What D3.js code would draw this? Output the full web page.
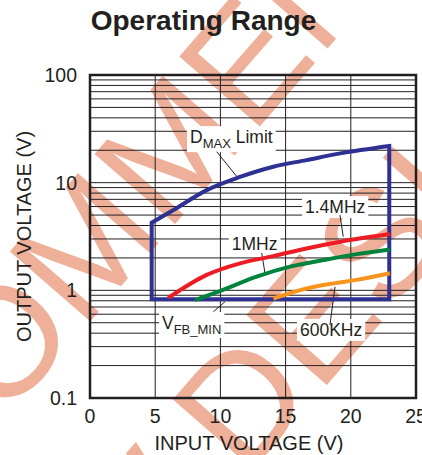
<!DOCTYPE html>
<html lang="en">
  <head>
    <meta charset="UTF-8" />
    <title>Operating Range</title>
    <script src="https://d3js.org/d3.v7.min.js"></script>
    <style>
      body { margin: 0; background: #fff; }
      text { font-family: "Liberation Sans", Arial, sans-serif; fill: #231f20; }
    </style>
  </head>
  <body>
    <svg width="422" height="455"></svg>
    <script>
      // axis ticks
      const xTicks = [0, 5, 10, 15, 20, 25];
      const yTicks = [0.1, 1, 10, 100];
      const yTickLabels = ["0.1", "1", "10", "100"];

      // operating boundary (blue)
      const vinMin = 4.73;
      const vinMax = 22.95;
      const vfbMin = 0.825;
      const dmaxVin = [4.73, 6.4, 8.95, 11.5, 14.06, 16.6, 19.2, 22.95];
      const dmaxVout = [4.25, 5.57, 8.53, 11.3, 14.06, 16.2, 18.7, 21.9];

      // frequency curves
      const f14Vin = [6.0, 8.95, 11.5, 14.06, 16.6, 19.2, 23.0];
      const f14Vout = [0.85, 1.39, 1.78, 2.08, 2.45, 2.83, 3.33];
      const f1Vin = [8.05, 10.2, 12.78, 15.34, 17.9, 20.45, 23.0];
      const f1Vout = [0.81, 1.01, 1.34, 1.66, 1.91, 2.17, 2.4];
      const f06Vin = [14.06, 16.6, 18.66, 20.45, 23.0];
      const f06Vout = [0.84, 1.04, 1.16, 1.25, 1.44];

      const svg = d3.select("svg");
      const margin = { left: 90, right: 6, top: 75, bottom: 57 };
      const W = 422, H = 455;

      const x = d3.scaleLinear().domain([0, 25]).range([margin.left, W - margin.right]);
      const y = d3.scaleLog().domain([0.1, 100]).range([H - margin.bottom, margin.top]);

      //Watermark behind the chart
      const wm = svg.append("g").attr("class", "watermark");
      function watermarkLine(str, idx, px, py) {
        const t = wm.append("text")
          .attr("transform", `translate(${px},${py}) rotate(-49)`)
          .style("font-size", "155px")
          .style("fill", "#efb09a")
          .text(str);
        const off = t.node().getSubStringLength(0, idx);
        t.attr("x", -off);
      }
      watermarkLine("NOT RECOMMENDED", 8, 82, 331);
      watermarkLine("FOR NEW DESIGNS", 8, 245, 479);

      //Grid
      const grid = svg.append("g").attr("stroke", "#231f20").attr("stroke-width", 1);
      grid.selectAll("line.h")
        .data(y.ticks())
        .enter()
        .append("line")
        .attr("x1", x(0)).attr("x2", x(25))
        .attr("y1", d => y(d)).attr("y2", d => y(d));
      grid.selectAll("line.v")
        .data(xTicks)
        .enter()
        .append("line")
        .attr("y1", y(0.1)).attr("y2", y(100))
        .attr("x1", d => x(d)).attr("x2", d => x(d));

      svg.append("rect")
        .attr("x", x(0)).attr("y", y(100))
        .attr("width", x(25) - x(0)).attr("height", y(0.1) - y(100))
        .attr("fill", "none")
        .attr("stroke", "#231f20")
        .attr("stroke-width", 2.5);

      //Tick labels
      svg.append("g")
        .selectAll("text")
        .data(xTicks)
        .enter()
        .append("text")
        .attr("x", d => x(d))
        .attr("y", 423)
        .attr("text-anchor", "middle")
        .style("font-size", "19.5px")
        .text(d => d);
      svg.append("g")
        .selectAll("text")
        .data(yTicks)
        .enter()
        .append("text")
        .attr("x", 77)
        .attr("y", d => y(d))
        .attr("dy", "0.36em")
        .attr("text-anchor", "end")
        .style("font-size", "19.5px")
        .text((d, i) => yTickLabels[i]);

      //Titles
      svg.append("text")
        .attr("x", 203.5).attr("y", 30)
        .attr("text-anchor", "middle")
        .style("font-size", "28px")
        .style("font-weight", "bold")
        .text("Operating Range");
      svg.append("text")
        .attr("x", 249).attr("y", 450)
        .attr("text-anchor", "middle")
        .style("font-size", "20px")
        .text("INPUT VOLTAGE (V)");
      svg.append("text")
        .attr("transform", "translate(31,236.5) rotate(-90)")
        .attr("text-anchor", "middle")
        .style("font-size", "20px")
        .text("OUTPUT VOLTAGE (V)");

      //Annotations (under the curves): label anchor and leader line in data units
      const notes = [
        { main: "D", sub: "MAX", rest: " Limit", at: [7.67, 23.3], from: [9.72, 19.4], to: [11.37, 10.96] },
        { main: "1.4MHz", at: [16.49, 5.22], from: [19.17, 5.0], to: [19.42, 3.15] },
        { main: "1MHz", at: [10.87, 2.37], from: [13.17, 2.22], to: [13.42, 1.44] },
        { main: "V", sub: "FB_MIN", rest: "", at: [5.52, 0.437], from: [9.46, 0.632], to: [10.35, 0.784] },
        { main: "600KHz", at: [16.1, 0.377], from: [18.4, 0.476], to: [18.79, 1.08] },
      ];
      const ann = svg.append("g");
      notes.forEach(function (n) {
        const g = ann.append("g");
        const bg = g.append("rect").attr("fill", "#fff");
        const t = g.append("text")
          .attr("x", x(n.at[0]))
          .attr("y", y(n.at[1]))
          .style("font-size", "17.5px");
        t.append("tspan").text(n.main);
        if (n.sub) {
          t.append("tspan").attr("dy", 5).style("font-size", "13px").text(n.sub);
          if (n.rest) t.append("tspan").attr("dy", -5).text(n.rest);
        }
        const b = t.node().getBBox();
        bg.attr("x", b.x - 3).attr("y", b.y - 1)
          .attr("width", b.width + 6).attr("height", b.height + 2);
        g.append("line")
          .attr("x1", x(n.from[0])).attr("y1", y(n.from[1]))
          .attr("x2", x(n.to[0])).attr("y2", y(n.to[1]))
          .attr("stroke", "#231f20")
          .attr("stroke-width", 1);
      });

      //Curves
      const line = d3.line()
        .x(d => x(d[0]))
        .y(d => y(d[1]))
        .curve(d3.curveMonotoneX);

      // boundary: left edge up, smooth DMAX top, right edge down, VFB_MIN floor
      const topEdge = line(d3.zip(dmaxVin, dmaxVout)).replace(/^M/, "L");
      svg.append("path")
        .attr("d", `M${x(vinMin)},${y(vfbMin)}` + topEdge + `L${x(vinMax)},${y(vfbMin)}Z`)
        .attr("fill", "none")
        .attr("stroke", "#2e3192")
        .attr("stroke-width", 4)
        .attr("stroke-linejoin", "miter");

      const series = [
        { vin: f14Vin, vout: f14Vout, color: "#ed1c24" },
        { vin: f1Vin, vout: f1Vout, color: "#00843d" },
        { vin: f06Vin, vout: f06Vout, color: "#f7941d" },
      ];
      svg.append("g")
        .selectAll("path")
        .data(series)
        .enter()
        .append("path")
        .attr("d", d => line(d3.zip(d.vin, d.vout)))
        .attr("fill", "none")
        .attr("stroke", d => d.color)
        .attr("stroke-width", 4);
    </script>
  </body>
</html>
